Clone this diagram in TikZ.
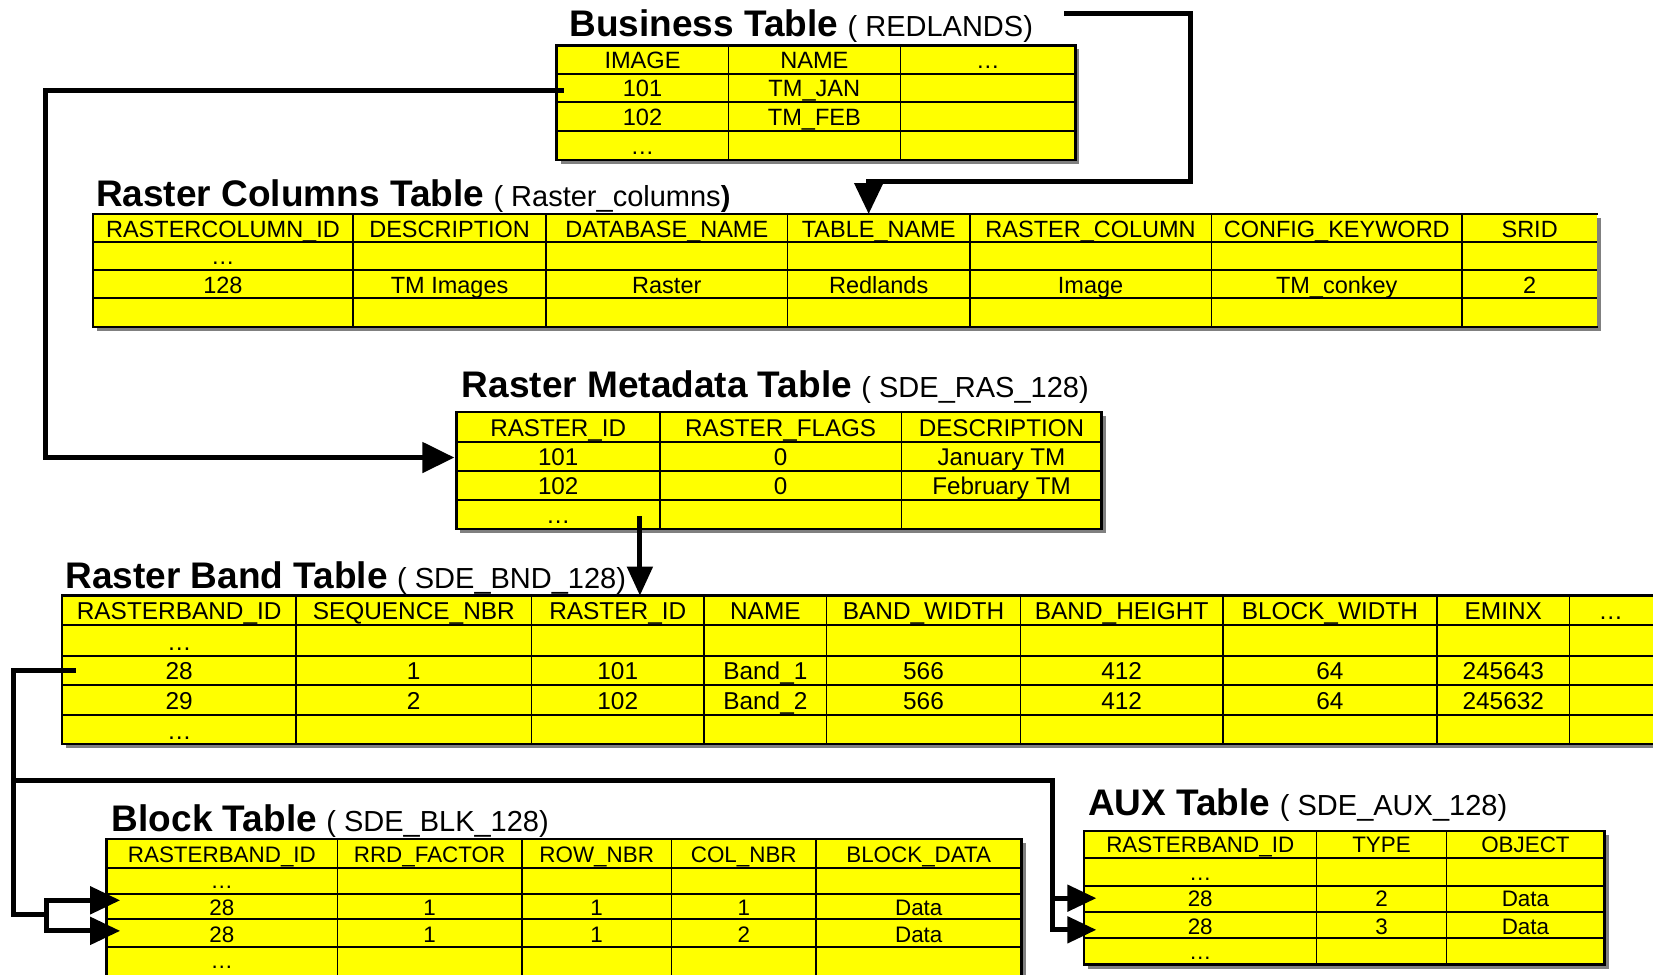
\documentclass[tikz,border=0pt]{standalone}
\usepackage{fontspec}
\setmainfont{Liberation Sans}
\usetikzlibrary{arrows.meta}
\definecolor{tblyellow}{HTML}{FFFF00}
\definecolor{shadowgray}{HTML}{808080}
\newcommand{\tbltitlefont}{\fontsize{37}{40}\selectfont\bfseries}
\newcommand{\tblsubfont}{\fontsize{29}{32}\selectfont\mdseries}
\tikzset{
  cellbase/.style={anchor=base, inner sep=0pt, text=black},
  ttl/.style={anchor=base west, inner sep=0pt},
  rowline/.style={line width=2pt, black},
  colline/.style={line width=1.5pt, black},
  tblborder/.style={line width=2.4pt, black, line cap=rect},
  conn/.style={line width=5pt, black, line cap=rect, line join=miter},
  connshadow/.style={line width=5pt, shadowgray, line cap=rect, line join=miter, xshift=1.2pt, yshift=-1.2pt},
}
% #1 name, #2 L, #3 R, #4 T, #5 B, #6 inner rows, #7 inner cols
\newcommand{\mktable}[7]{%
  \fill[shadowgray,xshift=4pt,yshift=-4pt] (#2,#4) rectangle (#3,#5);
  \fill[tblyellow] (#2,#4) rectangle (#3,#5);
  \foreach \yy in {#6} {\draw[rowline] (#2,\yy) -- (#3,\yy);}
  \foreach \xx in {#7} {\draw[colline] (\xx,#4) -- (\xx,#5);}
  \draw[tblborder] (#3,#4) -- (#2,#4) -- (#2,#5) -- (#3,#5);
  \coordinate (#1-nw) at (#2,#4);
  \coordinate (#1-se) at (#3,#5);
}
% #1 name prefix, #2 font size, #3 baseline, #4 list x/text
\newcommand{\rowtext}[4]{%
  \foreach \cx/\ct [count=\ci] in {#4} {%
    \node[cellbase, font=\fontsize{#2}{#2}\selectfont] (#1-\ci) at (\cx,#3) {\ct};}
}
\begin{document}
\begin{tikzpicture}[x=1.0542pt,y=-1.0542pt]
\useasboundingbox (0,0) rectangle (1568,924);
\clip (0,0) rectangle (1568,924);

% ---------------- Business table
\node[ttl] (t-bus) at (540,35) {{\tbltitlefont Business Table}\hspace{9.5pt}{\tblsubfont ( REDLANDS)}};
\mktable{bus}{528}{1020}{43}{152}{70,97,124}{691,854}
\draw[tblborder] (1020,43) -- (1020,152);
\rowtext{bus-h}{23.6}{65}{609.5/IMAGE, 772.5/NAME, 937/…}
\rowtext{bus-a}{23.6}{92}{609.5/101, 772.5/TM\_JAN}
\rowtext{bus-b}{23.6}{119}{609.5/102, 772.5/TM\_FEB}
\rowtext{bus-c}{23.6}{147}{609.5/…}

% ---------------- Raster columns table
\node[ttl] (t-col) at (91,196) {{\tbltitlefont Raster Columns Table}\hspace{9.5pt}{\tblsubfont ( Raster\_columns}{\tblsubfont\bfseries )}};
\mktable{col}{88}{1515}{203}{310}{230,256,283}{335,518,747,920,1149,1387}
\rowtext{col-h}{23.5}{225}{211.5/RASTERCOLUMN\_ID, 426.5/DESCRIPTION, 632.5/DATABASE\_NAME, 833.5/TABLE\_NAME, 1034.5/RASTER\_COLUMN, 1268/CONFIG\_KEYWORD, 1451/SRID}
\rowtext{col-a}{23.5}{251}{211.5/…}
\rowtext{col-b}{23.5}{278}{211.5/128, 426.5/TM Images, 632.5/Raster, 833.5/Redlands, 1034.5/Image, 1268/TM\_conkey, 1451/2}

% ---------------- Raster metadata table
\node[ttl] (t-meta) at (438,377) {{\tbltitlefont Raster Metadata Table}\hspace{9.5pt}{\tblsubfont ( SDE\_RAS\_128)}};
\mktable{meta}{433}{1045}{391}{502}{419,447,474}{626,855}
\draw[tblborder] (1045,391) -- (1045,502);
\rowtext{meta-h}{24.2}{414}{529.5/RASTER\_ID, 740.5/RASTER\_FLAGS, 950/DESCRIPTION}
\rowtext{meta-a}{24.2}{442}{529.5/101, 740.5/0, 950/January TM}
\rowtext{meta-b}{24.2}{469}{529.5/102, 740.5/0, 950/February TM}
\rowtext{meta-c}{24.2}{497}{529.5/…}

% ---------------- Raster band table
\node[ttl] (t-band) at (62,558) {{\tbltitlefont Raster Band Table}\hspace{9.5pt}{\tblsubfont ( SDE\_BND\_128)}};
\mktable{band}{59}{1580}{565}{706}{593,622,650,678}{281,504,668,784,968,1160,1363,1489}
\rowtext{band-h}{24.4}{588}{170/RASTERBAND\_ID, 392.5/SEQUENCE\_NBR, 586/RASTER\_ID, 726/NAME, 876/BAND\_WIDTH, 1064/BAND\_HEIGHT, 1261.5/BLOCK\_WIDTH, 1426/EMINX, 1528/…}
\rowtext{band-a}{24.4}{617}{170/…}
\rowtext{band-b}{24.4}{645}{170/28, 392.5/1, 586/101, 726/Band\_1, 876/566, 1064/412, 1261.5/64, 1426/245643}
\rowtext{band-c}{24.4}{673}{170/29, 392.5/2, 586/102, 726/Band\_2, 876/566, 1064/412, 1261.5/64, 1426/245632}
\rowtext{band-d}{24.4}{701}{170/…}

% ---------------- Block table
\node[ttl] (t-blk) at (106,789) {{\tbltitlefont Block Table}\hspace{9.5pt}{\tblsubfont ( SDE\_BLK\_128)}};
\mktable{blk}{101}{969}{796}{926}{823,848,872,898}{320,495,637,774}
\draw[tblborder] (969,796) -- (969,926);
\rowtext{blk-h}{22.4}{818}{210.5/RASTERBAND\_ID, 407.5/RRD\_FACTOR, 566/ROW\_NBR, 705.5/COL\_NBR, 871.5/BLOCK\_DATA}
\rowtext{blk-a}{22.4}{843}{210.5/…}
\rowtext{blk-b}{22.4}{868}{210.5/28, 407.5/1, 566/1, 705.5/1, 871.5/Data}
\rowtext{blk-c}{22.4}{894}{210.5/28, 407.5/1, 566/1, 705.5/2, 871.5/Data}
\rowtext{blk-d}{22.4}{919}{210.5/…}

% ---------------- AUX table
\node[ttl] (t-aux) at (1032,774) {{\tbltitlefont AUX Table}\hspace{9.5pt}{\tblsubfont ( SDE\_AUX\_128)}};
\mktable{aux}{1028}{1522}{788}{915}{814,840,865,890}{1249,1372}
\draw[tblborder] (1522,788) -- (1522,915);
\rowtext{aux-h}{22.4}{809}{1138.5/RASTERBAND\_ID, 1310.5/TYPE, 1447/OBJECT}
\rowtext{aux-a}{22.4}{835}{1138.5/…}
\rowtext{aux-b}{22.4}{860}{1138.5/28, 1310.5/2, 1447/Data}
\rowtext{aux-c}{22.4}{886}{1138.5/28, 1310.5/3, 1447/Data}
\rowtext{aux-d}{22.4}{910}{1138.5/…}

% ---------------- connector anchor coordinates
\coordinate (busA) at (533,86);
\coordinate (busL) at (43,86);
\coordinate (metaIn) at (431,434);
\coordinate (busTop) at (1012,13);
\coordinate (busR) at (1129,172);
\coordinate (colIn) at (824,203);
\coordinate (metaOut) at (607,492);
\coordinate (bandIn) at (607,565);
\coordinate (bandA) at (70,636);
\coordinate (trunk) at (13,867);
\coordinate (fork) at (44,867);
\coordinate (blkIn1) at (114,854);
\coordinate (blkIn2) at (114,883);
\coordinate (auxBus) at (13,740);
\coordinate (auxDown) at (998,740);
\coordinate (auxIn1) at (1040,852);
\coordinate (auxIn2) at (1040,882);

% ---------------- connector shadows
\draw[connshadow] (busA) -- (busL) |- ([xshift=-28pt]metaIn);
\draw[connshadow] (busTop) -| (busR) -| ([yshift=28pt]colIn);
\draw[connshadow] (bandA) -| (trunk) -- (fork);
\draw[connshadow] (auxBus) -- (auxDown) |- ([xshift=-26pt]auxIn2);

% ---------------- connectors
\draw[conn, -{Triangle[length=32pt,width=30pt]}] (busA) -- (busL) |- (metaIn);
\draw[conn, -{Triangle[length=31pt,width=28pt]}] (busTop) -| (busR) -| (colIn);
\draw[conn, -{Triangle[length=29pt,width=25pt]}] (metaOut) -- (bandIn);
\draw[conn] (bandA) -| (trunk) -- (fork);
\draw[conn] (fork |- blkIn1) -- (fork |- blkIn2);
\draw[conn, -{Triangle[length=30pt,width=27pt]}] (fork |- blkIn1) -- (blkIn1);
\draw[conn, -{Triangle[length=30pt,width=27pt]}] (fork |- blkIn2) -- (blkIn2);
\draw[conn, -{Triangle[length=29pt,width=26pt]}] (auxBus) -- (auxDown) |- (auxIn2);
\draw[conn, -{Triangle[length=29pt,width=26pt]}] (auxDown |- auxIn1) -- (auxIn1);
\end{tikzpicture}
\end{document}
